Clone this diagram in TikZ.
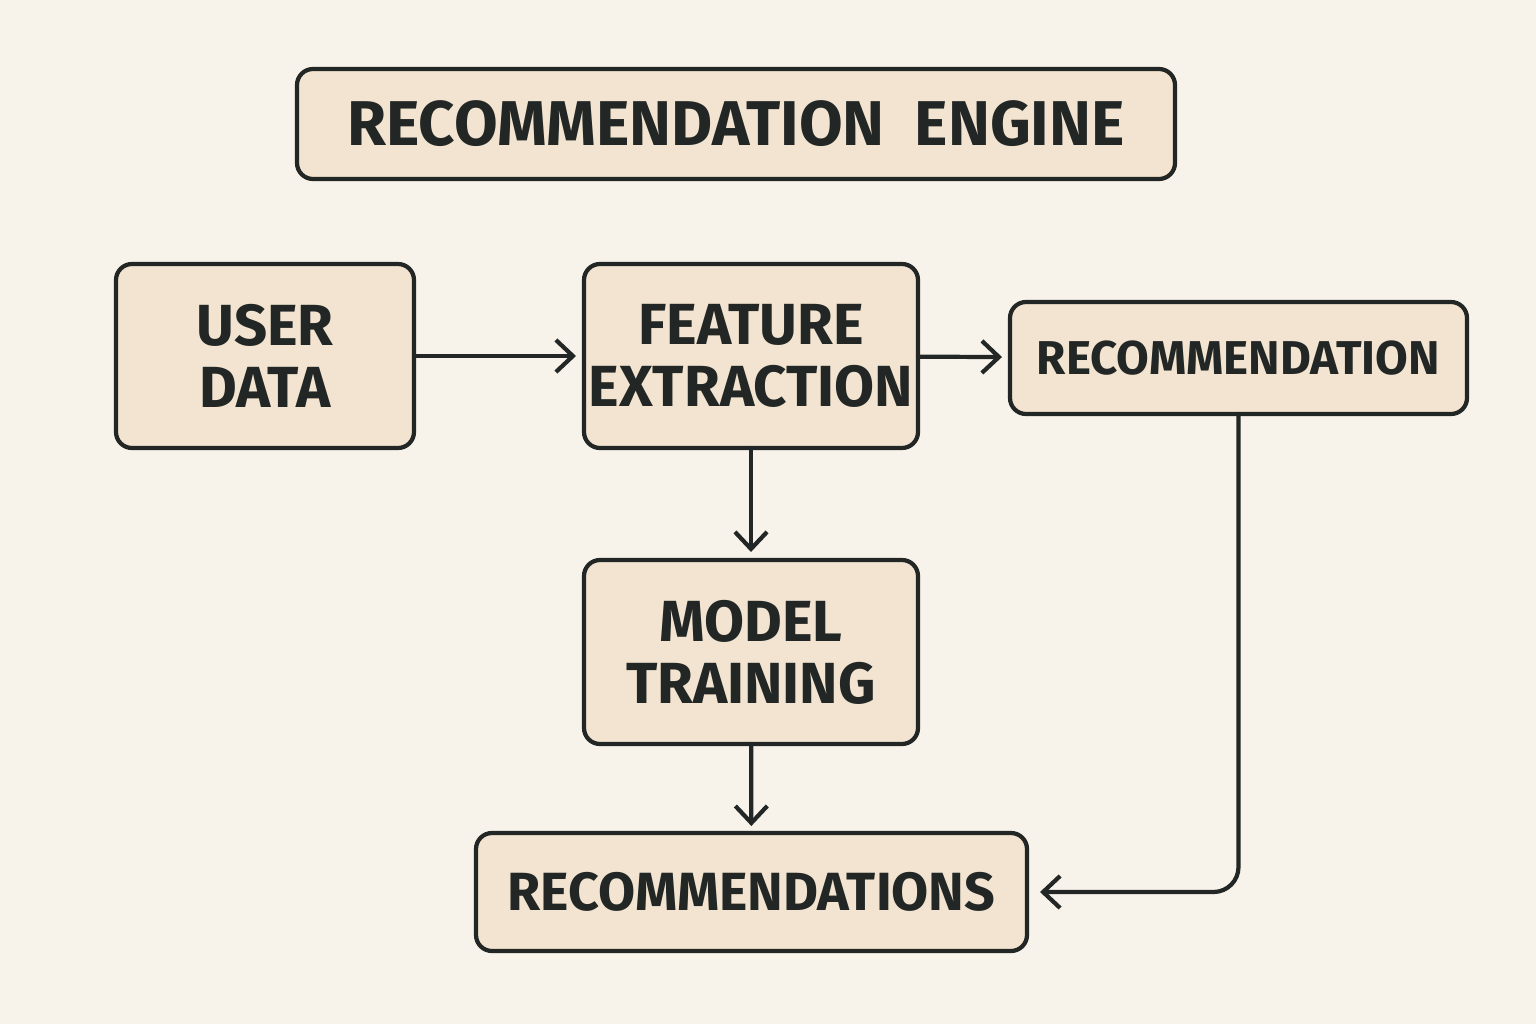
\documentclass[tikz,border=0pt]{standalone}
\usepackage{fontspec}
\setmainfont{Fira Sans}
\usetikzlibrary{arrows.meta}

\definecolor{paper}{HTML}{F8F3EA}
\definecolor{boxfill}{HTML}{F2E4D0}
\definecolor{ink}{HTML}{222725}

\tikzset{
    box/.style={draw=ink, line width=1.2pt, rounded corners=0.16cm, fill=boxfill,
        inner sep=0pt, outer sep=0pt, align=center, text=ink, font=\bfseries},
    flow/.style={draw=ink, line width=1.2pt, line cap=round,
        -{Straight Barb[length=0.17cm, width=0.32cm, line width=1.2pt]}}
}

\begin{document}
\begin{tikzpicture}

        \fill[paper] (0, 0) rectangle (15.36, 10.24);

        \node[name=title, box, minimum width=8.78cm, minimum height=1.10cm,
            font=\bfseries\fontsize{18}{22}\selectfont] at (7.36, 9.00) {RECOMMENDATION\ \ ENGINE};
        \node[name=user, box, minimum width=2.98cm, minimum height=1.84cm,
            font=\bfseries\fontsize{16.5}{17.6}\selectfont] at (2.65, 6.68) {USER\\DATA};
        \node[name=feature, box, minimum width=3.34cm, minimum height=1.84cm,
            font=\bfseries\fontsize{16.5}{17.6}\selectfont] at (7.51, 6.68) {FEATURE\\EXTRACTION};
        \node[name=rec, box, minimum width=4.57cm, minimum height=1.12cm,
            font=\bfseries\fontsize{13.5}{16}\selectfont] at (12.385, 6.66) {RECOMMENDATION};
        \node[name=model, box, minimum width=3.34cm, minimum height=1.84cm,
            font=\bfseries\fontsize{16.5}{17.6}\selectfont] at (7.51, 3.72) {MODEL\\TRAINING};
        \node[name=recs, box, minimum width=5.51cm, minimum height=1.18cm,
            font=\bfseries\fontsize{15.3}{18}\selectfont] at (7.515, 1.32) {RECOMMENDATIONS};

        \draw[flow, shorten >=0.08cm] (user) -- (feature);
        \draw[flow, shorten >=0.08cm] (feature) -- (rec);
        \draw[flow, shorten >=0.08cm] (feature) -- (model);
        \draw[flow, shorten >=0.07cm] (model) -- (recs);
        \draw[flow, shorten >=0.13cm, rounded corners=0.25cm] (rec.south) |- (recs.east);
    \end{tikzpicture}
\end{document}
